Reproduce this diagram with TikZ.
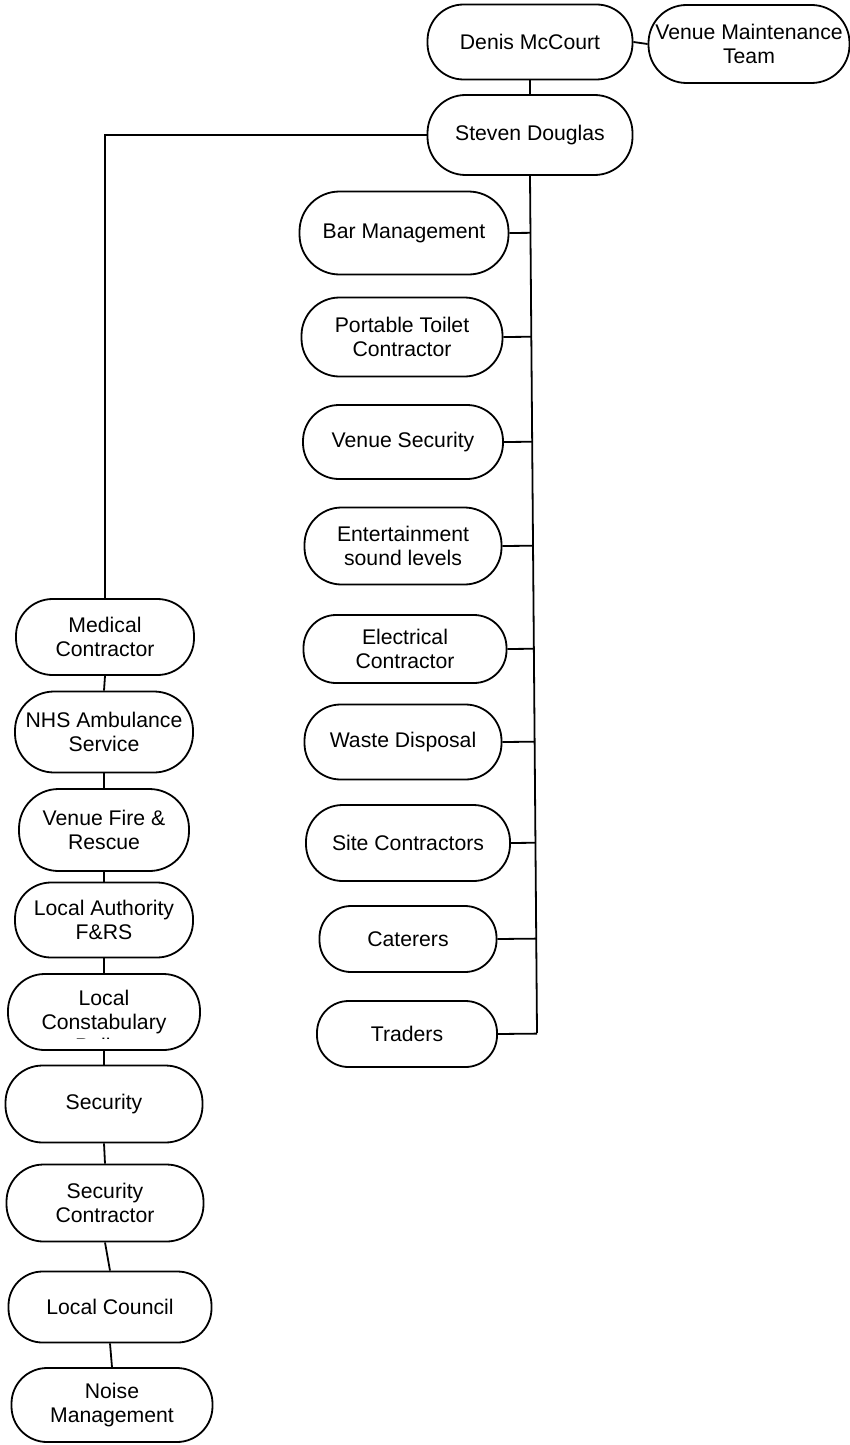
\documentclass[tikz,border=0pt]{standalone}
\usepackage{fontspec}
\setmainfont{Liberation Sans}
\usetikzlibrary{calc}
\begin{document}
\begin{tikzpicture}[x=0.5pt,y=-0.5pt,
  font=\fontsize{10.6}{12}\selectfont,
  box/.style={draw, line width=0.9pt, rounded corners=#1, align=center, inner sep=1pt},
  box/.default=18pt,
  link/.style={draw, line width=0.9pt}]
\useasboundingbox (0,0) rectangle (850,1445);
% top
\node[box=18pt, minimum width=102.5pt, minimum height=37.5pt] (dm) at (530,42) {Denis McCourt};
\node[box=19pt, minimum width=100.5pt, minimum height=39pt] (vmt) at (749,44) {Venue Maintenance\\Team};
\node[box=19pt, minimum width=102.5pt, minimum height=40pt] (sd) at (530,135) {Steven Douglas};
% right column
\node[box=20pt, minimum width=104.5pt, minimum height=41.5pt] (bar) at (404,233) {Bar Management};
\node[box=19pt, minimum width=100.5pt, minimum height=39.5pt] (ptc) at (402,337) {Portable Toilet\\Contractor};
\node[box=18pt, minimum width=100pt, minimum height=37pt] (vs) at (403,442) {Venue Security};
\node[box=18.5pt, minimum width=98.5pt, minimum height=38.5pt] (ent) at (403,546) {Entertainment\\sound levels};
\node[box=16.3pt, minimum width=101.5pt, minimum height=34pt] (ele) at (405,649) {Electrical\\Contractor};
\node[box=18pt, minimum width=98.5pt, minimum height=37.5pt] (wd) at (403,742) {Waste Disposal};
\node[box=18.3pt, minimum width=102pt, minimum height=38pt] (sc) at (408,843) {Site Contractors};
\node[box=15.8pt, minimum width=88.5pt, minimum height=33pt] (cat) at (408,939) {Caterers};
\node[box=15.8pt, minimum width=90pt, minimum height=33pt] (tra) at (407,1034) {Traders};
% left column
\node[box=18.3pt, minimum width=89pt, minimum height=38pt] (med) at (105,637) {Medical\\Contractor};
\node[box=19.5pt, minimum width=89pt, minimum height=40.5pt] (nhs) at (104,732) {NHS Ambulance\\Service};
\node[box=19.8pt, minimum width=85pt, minimum height=41pt] (vfr) at (104,830) {Venue Fire \&\\Rescue};
\node[box=18pt, minimum width=89pt, minimum height=37.5pt] (la) at (104,920) {Local Authority\\F\&RS};
\node[box=18.3pt, minimum width=96pt, minimum height=38pt,
  path picture={
    \clip ([yshift=6pt]path picture bounding box.south west) rectangle (path picture bounding box.north east);
    \node[align=center, inner sep=0pt] at ([yshift=-5pt]path picture bounding box.center) {Local\\Constabulary\\Police};}] (lc) at (104,1012) {};
\node[box=18.5pt, minimum width=98.5pt, minimum height=38.5pt] (sec) at (104,1104) {Security};
\node[box=18.5pt, minimum width=98.5pt, minimum height=38.5pt] (secc) at (105,1203) {Security\\Contractor};
\node[box=17pt, minimum width=101.5pt, minimum height=35.5pt] (lcn) at (110,1307) {Local Council};
\node[box=17.8pt, minimum width=100.5pt, minimum height=37pt] (nm) at (112,1405) {Noise\\Management};
% connectors
\coordinate (spb) at (537,1033);
\path[link] (dm.east) -- (vmt.west);
\path[link] (dm.south) -- (sd.north);
\path[link] (sd.south) -- (spb);
\foreach \n in {bar,ptc,vs,ent,ele,wd,sc,cat,tra}
  \path[link] (\n.east) -- ($(sd.south)!(\n.east)!(spb)$);
\path[link] (sd.west) -| (med.north);
\path[link] (med.south) -- (nhs.north);
\path[link] (nhs.south) -- (vfr.north);
\path[link] (vfr.south) -- (la.north);
\path[link] (la.south) -- (lc.north);
\path[link] (lc.south) -- (sec.north);
\path[link] (sec.south) -- (secc.north);
\path[link] (secc.south) -- (lcn.north);
\path[link] (lcn.south) -- (nm.north);
\end{tikzpicture}
\end{document}
